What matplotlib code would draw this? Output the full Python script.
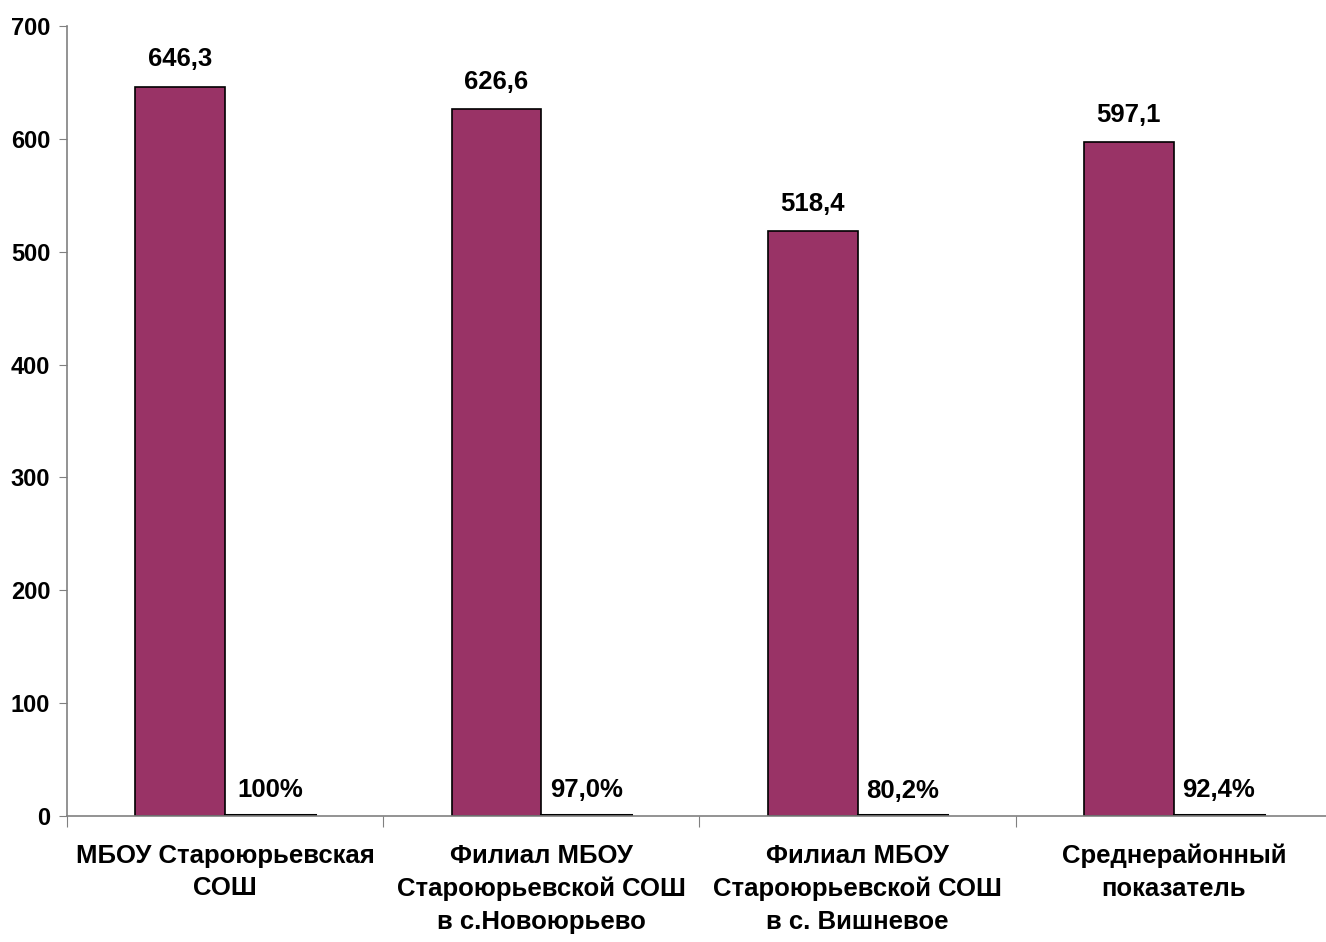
import matplotlib
matplotlib.use("Agg")
import matplotlib.pyplot as plt
from matplotlib import font_manager
import numpy as np

# Data
categories = ["МБОУ Староюрьевская\nСОШ",
              "Филиал МБОУ\nСтароюрьевской СОШ\nв с.Новоюрьево",
              "Филиал МБОУ\nСтароюрьевской СОШ\nв с. Вишневое",
              "Среднерайонный\nпоказатель"]
scores = [646.3, 626.6, 518.4, 597.1]
percents = [1.000, 0.970, 0.802, 0.924]
score_labels = ["646,3", "626,6", "518,4", "597,1"]
percent_labels = ["100%", "97,0%", "80,2%", "92,4%"]

# Narrow bold font if present
names = {f.name for f in font_manager.fontManager.ttflist}
if "Liberation Sans Narrow" in names:
    fam = ["Liberation Sans Narrow", "DejaVu Sans"]
else:
    fam = ["Liberation Sans", "DejaVu Sans"]
plt.rcParams["font.family"] = fam
plt.rcParams["font.weight"] = "bold"

barColor = "#993366"
axisColor = "#808080"

fig = plt.figure(figsize=(13.26, 9.42), dpi=100)
ax = fig.add_axes([0.0505, 0.1338, 0.954, 0.8386])

x = np.arange(len(categories))
w = 0.284

ax.bar(x - w/2, scores, w, color=barColor, edgecolor="black", linewidth=1.2)
ax.bar(x + w/2, percents, w, color=barColor, edgecolor="black", linewidth=2.2)

for i in range(len(categories)):
    ax.annotate(score_labels[i], (x[i] - w/2, scores[i]), xytext=(0, 11),
                textcoords="offset points", ha="center", va="bottom",
                fontsize=18.5, fontweight="bold")
    ax.annotate(percent_labels[i], (x[i] + w/2, percents[i]), xytext=(0, 9),
                textcoords="offset points", ha="center", va="bottom",
                fontsize=18.5, fontweight="bold")

ax.set_xlim(-0.5, len(categories) - 0.5)
ax.set_ylim(0, 700)
ax.set_yticks(range(0, 701, 100))
ax.set_yticklabels([str(v) for v in range(0, 701, 100)], fontsize=17, fontweight="bold")

# category ticks on boundaries, labels in centers
ax.set_xticks(np.arange(-0.5, len(categories), 1.0))
ax.set_xticklabels([])
ax.set_xticks(x, minor=True)
ax.set_xticklabels(categories, minor=True, fontsize=18.5, fontweight="bold",
                   linespacing=1.45)
ax.tick_params(axis="x", which="minor", length=0, pad=20)
ax.tick_params(axis="x", which="major", length=8, color=axisColor, direction="out")
ax.tick_params(axis="y", length=6, color=axisColor, direction="out", pad=6)

for s in ["top", "right"]:
    ax.spines[s].set_visible(False)
for s in ["left", "bottom"]:
    ax.spines[s].set_color(axisColor)
    ax.spines[s].set_linewidth(1.2)

fig.savefig("out.png", dpi=100)
